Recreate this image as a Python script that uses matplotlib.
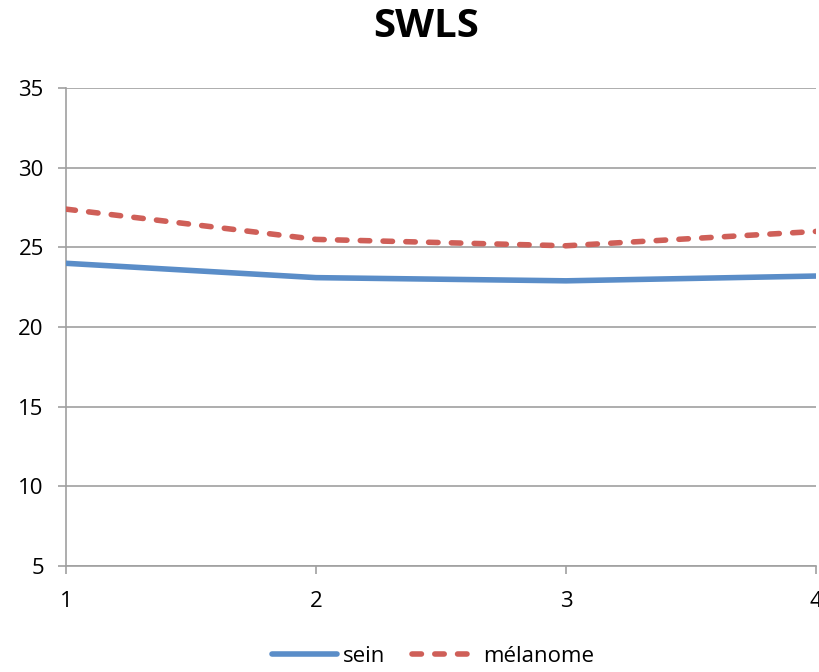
import matplotlib.pyplot as plt

# données
x_points = [1, 2, 3, 4]
sein = [24.0, 23.1, 22.9, 23.2]
melanome = [27.4, 25.5, 25.1, 26.0]
y_ticks = [5, 10, 15, 20, 25, 30, 35]

plt.rcParams['font.family'] = ['Open Sans', 'DejaVu Sans']

fig = plt.figure(figsize=(8.19, 6.72), dpi=100)
ax = fig.add_axes([0.0806, 0.1577, 0.9158, 0.7113])

ax.plot(x_points, sein, color='#5A8DC8', lw=4, label='sein',
        solid_capstyle='round', zorder=3)
ax.plot(x_points, melanome, color='#CF5F58', lw=4, label='mélanome',
        linestyle=(0, (1.7, 2.4)), dash_capstyle='round', zorder=3)

ax.set_xlim(1, 4)
ax.set_ylim(5, 35)
ax.set_xticks(x_points)
ax.set_yticks(y_ticks)
ax.yaxis.grid(True, color='#A0A0A0', lw=1.2)
ax.set_axisbelow(True)

for s in ['top', 'right']:
    ax.spines[s].set_visible(False)
for s in ['left', 'bottom']:
    ax.spines[s].set_color('#A0A0A0')
    ax.spines[s].set_linewidth(1.2)
ax.tick_params(axis='both', colors='#A0A0A0', labelcolor='black',
               labelsize=16, length=6, width=1.2)
ax.tick_params(axis='x', pad=12)
ax.tick_params(axis='y', pad=10)
for lab in ax.get_xticklabels():
    lab.set_clip_on(False)

fig.text(0.52, 0.99, 'SWLS', ha='center', va='top', fontsize=29,
         fontweight='bold')

fig.legend(loc='lower center', bbox_to_anchor=(0.529, -0.022), ncol=2,
           frameon=False, fontsize=16, handlelength=2.9, handletextpad=0.3,
           columnspacing=1.2)

fig.savefig('out.png', dpi=100)
